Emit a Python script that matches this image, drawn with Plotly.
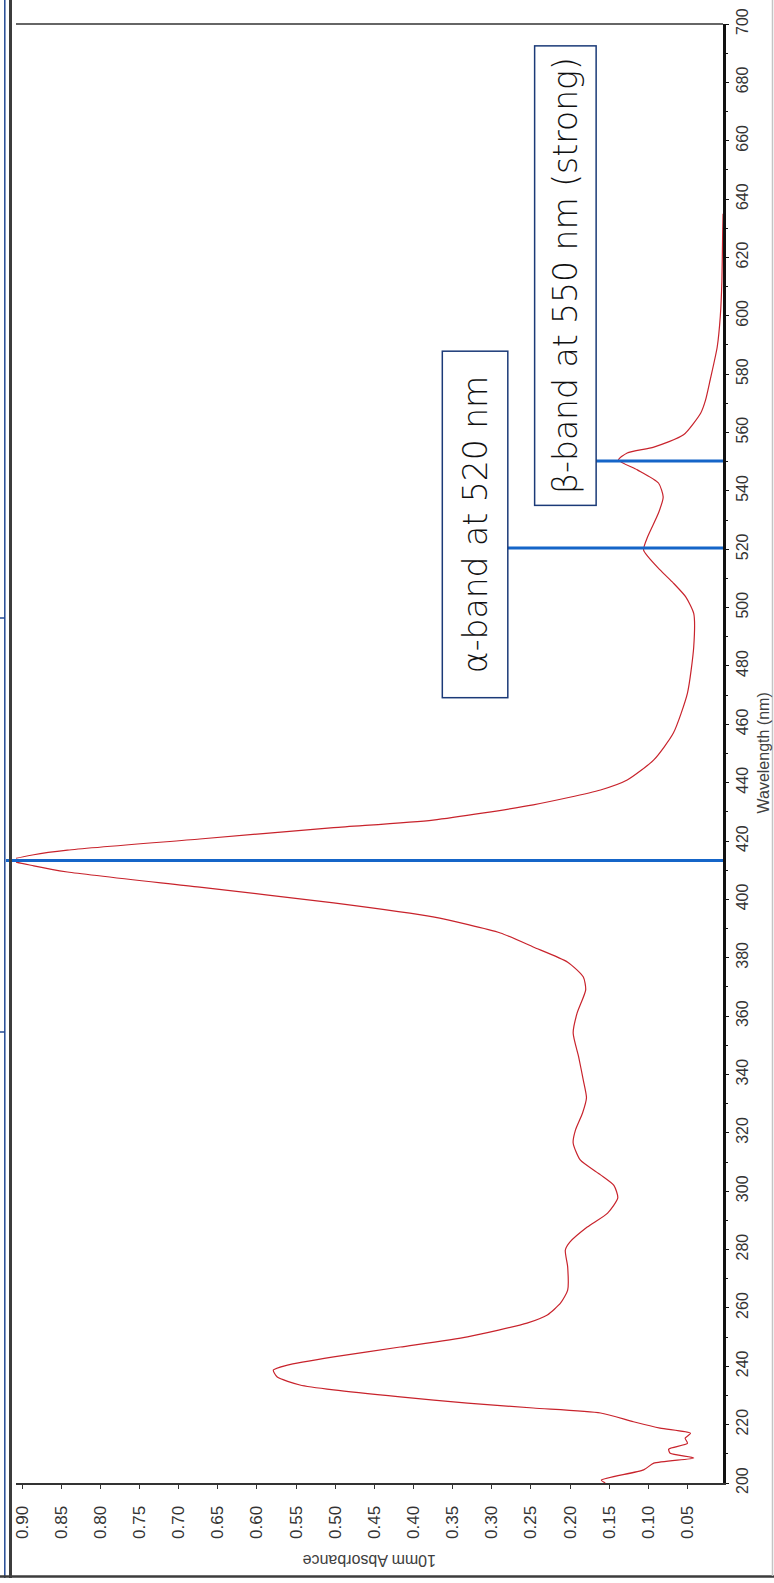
import plotly.graph_objects as go

# ---- data (wavelength nm, 10mm absorbance) ----
wavelength = [200, 201, 204.5, 206.8, 208.6, 210.2, 211.6, 213.6, 215.4, 217, 218.8, 221, 224,
              225.7, 227.4, 229.5, 231.9, 233.6, 236.3, 238.7, 240.4, 243.2, 246.6, 250.1,
              254.8, 257.6, 261.7, 266.1, 274, 279.8, 282.6, 287.7, 292.5, 297.7, 302,
              305.6, 310.7, 316.5, 321, 326.8, 332, 338, 346, 354.2, 361, 369, 373.4,
              378.5, 383.7, 388.5, 394, 398.8, 404.2, 409.4, 411.5, 413.4, 415.3,
              416.9, 420.7, 424.6, 427.2, 432.4, 437.5, 440.9, 447.8, 457, 470.7,
              486.5, 498, 503.6, 508.4, 512.9, 519.7, 524.2, 532.4, 537.9, 542.7, 547.2,
              550.6, 553, 555, 559.2, 566.7, 571, 578, 589.3, 600, 612, 629, 635]
absorbance = [0.155, 0.16, 0.106, 0.093, 0.042, 0.072, 0.074, 0.05, 0.053, 0.046, 0.085, 0.119, 0.161,
              0.247, 0.331, 0.417, 0.502, 0.545, 0.574, 0.579, 0.561, 0.502, 0.417, 0.331,
              0.255, 0.229, 0.212, 0.203, 0.203, 0.206, 0.2, 0.178, 0.152, 0.139, 0.144,
              0.161, 0.187, 0.196, 0.193, 0.184, 0.179, 0.183, 0.189, 0.196, 0.191, 0.18, 0.183,
              0.203, 0.247, 0.289, 0.375, 0.502, 0.673, 0.842, 0.885, 0.915, 0.885,
              0.842, 0.673, 0.502, 0.375, 0.247, 0.161, 0.127, 0.093, 0.068, 0.05,
              0.042, 0.042, 0.052, 0.068, 0.085, 0.106, 0.101, 0.087, 0.081, 0.087, 0.114,
              0.138, 0.127, 0.093, 0.055, 0.033, 0.027, 0.021, 0.012, 0.008, 0.006, 0.005, 0.0045]

band_wavelengths = [413.3, 520.4, 550.2]
band_labels = ["", "α-band at 520 nm", "β-band at 550 nm (strong)"]
label_wavelengths = [None, 528.5, 613.6]

abs_ticks = [0.05, 0.10, 0.15, 0.20, 0.25, 0.30, 0.35, 0.40, 0.45, 0.50, 0.55, 0.60,
             0.65, 0.70, 0.75, 0.80, 0.85, 0.90]
wl_ticks = list(range(200, 701, 20))

# ---- geometry helpers (pixel -> paper) ----
W_FIG, H_FIG = 774, 1583
L, R, T, B = 16, 723, 24, 1483
PW, PH = R - L, B - T


def px_x(px):
    return (px - L) / PW


def px_y(py):
    return (B - py) / PH


fig = go.Figure()
fig.add_trace(go.Scatter(
    x=absorbance, y=wavelength, mode="lines",
    line=dict(color="#c8232c", width=1.2, shape="spline", smoothing=0.6),
    hoverinfo="skip", showlegend=False))

shapes = []
# blue band lines
line_starts = [6, 508, 596]
for wl, xs in zip(band_wavelengths, line_starts):
    shapes.append(dict(type="line", xref="paper", yref="y", x0=px_x(xs), x1=1.0,
                       y0=wl, y1=wl, line=dict(color="#1565c8", width=3), layer="above"))

# top frame line
shapes.append(dict(type="line", xref="paper", yref="paper", x0=0, x1=1, y0=1, y1=1,
                   line=dict(color="#333333", width=1.3)))
# window borders
shapes.append(dict(type="line", xref="paper", yref="paper", x0=px_x(10.5), x1=px_x(10.5),
                   y0=px_y(0), y1=px_y(1578), line=dict(color="#3c3c3c", width=3)))
shapes.append(dict(type="line", xref="paper", yref="paper", x0=px_x(4.8), x1=px_x(4.8),
                   y0=px_y(0), y1=px_y(1578), line=dict(color="#234a94", width=1.5)))
shapes.append(dict(type="line", xref="paper", yref="paper", x0=px_x(0), x1=px_x(774),
                   y0=px_y(1576.5), y1=px_y(1576.5), line=dict(color="#3c3c3c", width=2.5)))
shapes.append(dict(type="line", xref="paper", yref="paper", x0=px_x(772.5), x1=px_x(772.5),
                   y0=px_y(0), y1=px_y(1576), line=dict(color="#c4c4c4", width=1.5)))
for yy in (618, 1032):
    shapes.append(dict(type="line", xref="paper", yref="paper", x0=px_x(0), x1=px_x(5),
                       y0=px_y(yy), y1=px_y(yy), line=dict(color="#234a94", width=1.5)))

annotations = []
box_font = dict(family="DejaVu Sans, Liberation Sans, Arial", size=33, color="#111111", weight=200)
# alpha box
annotations.append(dict(xref="paper", yref="y", x=px_x(475), y=label_wavelengths[1],
                        xanchor="center", yanchor="middle",
                        text=band_labels[1], textangle=-90, showarrow=False,
                        font=box_font, bordercolor="#1b3a78", borderwidth=1.5, borderpad=0,
                        bgcolor="white", width=345, height=64, align="center", valign="middle"))
annotations.append(dict(xref="paper", yref="y", x=px_x(565), y=label_wavelengths[2],
                        xanchor="center", yanchor="middle",
                        text=band_labels[2], textangle=-90, showarrow=False,
                        font=box_font, bordercolor="#1b3a78", borderwidth=1.5, borderpad=0,
                        bgcolor="white", width=458, height=60, align="center", valign="middle"))
# axis titles
annotations.append(dict(xref="paper", yref="paper", x=px_x(763), y=0.5,
                        xanchor="center", yanchor="middle",
                        text="Wavelength (nm)", textangle=-90, showarrow=False,
                        font=dict(family="Liberation Sans, Arial", size=16, color="#404040")))
annotations.append(dict(xref="paper", yref="paper", x=0.5, y=px_y(1561),
                        xanchor="center", yanchor="middle",
                        text="10mm Absorbance", textangle=180, showarrow=False,
                        font=dict(family="Liberation Sans, Arial", size=16, color="#404040")))

tick_font = dict(family="Liberation Sans, Arial", size=17, color="#333333")

fig.update_layout(
    width=W_FIG, height=H_FIG,
    margin=dict(l=L, r=W_FIG - R, t=T, b=H_FIG - B, pad=0, autoexpand=False),
    paper_bgcolor="white", plot_bgcolor="white",
    shapes=shapes, annotations=annotations,
    xaxis=dict(range=[0.9077, 0.0046], tickvals=abs_ticks,
               ticktext=[f"{v:.2f}" for v in abs_ticks], tickangle=-90,
               ticks="outside", ticklen=4, tickwidth=1.3, tickcolor="#333333",
               showline=True, linecolor="#333333", linewidth=2, automargin=False,
               showgrid=False, zeroline=False, tickfont=tick_font, ticklabelstandoff=10),
    yaxis=dict(range=[200, 700], side="right", tickvals=wl_ticks,
               ticktext=[str(v) for v in wl_ticks], tickangle=-90,
               ticks="outside", ticklen=3, tickwidth=1.3, tickcolor="#111111",
               minor=dict(dtick=10, tick0=200, ticks="outside", ticklen=2, tickcolor="#111111"),
               showline=True, linecolor="#111111", linewidth=2.5, automargin=False,
               showgrid=False, zeroline=False,
               tickfont=dict(family="Liberation Sans, Arial", size=16, color="#333333")),
)

fig.write_html("out.html", config={"displayModeBar": False},
               post_script="document.body.style.margin='0px';document.body.style.overflow='hidden';")
